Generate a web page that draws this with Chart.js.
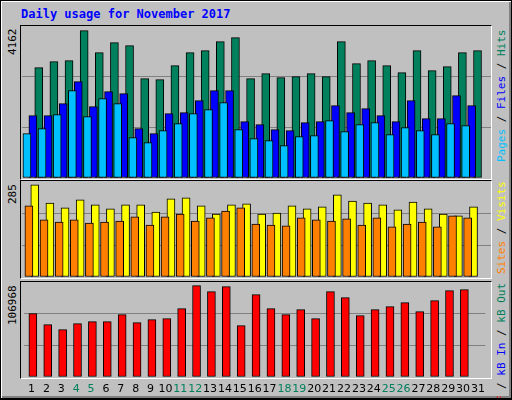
<!DOCTYPE html>
<html><head><meta charset="utf-8">
<script src="https://cdn.jsdelivr.net/npm/chart.js@4"></script>
<style>
html,body{margin:0;padding:0;background:#c0c0c0;}
#wrap{position:absolute;left:0;top:0;width:510px;height:397px;border:1px solid #000;border-bottom:2px solid #000;background:#c0c0c0;box-shadow:inset 1px 1px 0 #fff,inset -2px -2px 0 #808080;overflow:hidden;}
.frame{position:absolute;left:19px;width:470px;border-top:1px solid #000;border-left:1px solid #000;border-right:1px solid #fff;border-bottom:1px solid #fff;}
.c{position:absolute;left:21px;width:469px;}
.title{position:absolute;left:20px;top:6px;font:bold 12px "DejaVu Sans Mono",monospace;color:#0000ff;}
.yl{position:absolute;font:11px "DejaVu Sans Mono",monospace;color:#000;transform-origin:0 0;transform:rotate(-90deg);white-space:nowrap;}
.rl{position:absolute;font:11px "DejaVu Sans Mono",monospace;transform-origin:0 0;transform:rotate(-90deg);white-space:nowrap;}
</style></head><body>
<div id="wrap">
<div class="title">Daily usage for November 2017</div>
<div class="frame" style="top:24px;height:153px"></div>
<div class="frame" style="top:179px;height:97px"></div>
<div class="frame" style="top:280px;height:96px"></div>
<div class="c" style="top:25px;height:152px"><canvas id="c1"></canvas></div>
<div class="c" style="top:180px;height:96px"><canvas id="c2"></canvas></div>
<div class="c" style="top:281px;height:117px"><canvas id="c3"></canvas></div>
<div id="labels"></div>
</div>
<script>
const days = Array.from({length:31},(_,i)=>String(i+1));
const weekendDays = [4,5,11,12,18,19,25,26];
const hits = [3117,3286,3314,4162,3540,3823,3738,2806,2778,3173,3540,3597,3851,3964,2806,2947,2834,2862,2947,2862,3851,3230,3314,3173,2975,3597,3032,3145,3540,3597];
const files = [1761,1761,2100,2721,2015,2439,2382,1394,1252,1817,1846,2185,2467,2467,1591,1507,1365,1337,1563,1591,2043,1846,1959,1761,1591,2185,1676,1676,2326,2043];
const pages = [1252,1394,1789,2467,1733,2241,2100,1139,998,1337,1535,1817,1930,2128,1365,1111,1055,913,1168,1196,1620,1309,1507,1563,1224,1422,1337,1224,1535,1478];
const visits = [285,229,214,239,223,211,223,223,201,242,245,220,195,223,226,195,198,220,211,217,254,235,229,223,208,232,211,195,189,217];
const sites = [220,177,170,177,167,170,173,186,161,186,195,173,183,204,214,164,161,158,183,177,173,180,161,183,155,164,170,155,189,183];
const kbytes = [74176,61293,55437,62464,64806,64806,73005,63635,67149,68320,80032,106968,99942,105797,60122,96429,80032,73005,78861,68320,99942,92915,71834,78861,82374,87059,76518,89402,101113,102284];
const maxLabels = ["4162","285","106968"];
const scaleMax = [4292,297,111181];

const pts = a => a.map((v,i)=>({x:i+1,y:v}));
function hx(shift){return {type:'linear',display:false,offset:false,grace:0,bounds:'data',min:0.5-shift,max:31.5-shift};}
function yAxis(m){return {min:0,max:m,display:true,border:{display:false},ticks:{display:false,stepSize:m/3},
  grid:{drawTicks:false,color:c=>(c.tick&&c.index>0&&c.index<3)?'#808080':'rgba(0,0,0,0)',lineWidth:1}};}
function ds(data,color,axis,order){return {data:pts(data),backgroundColor:color,borderColor:'#000',borderWidth:1,borderSkipped:false,barThickness:8,xAxisID:axis,order:order};}
const base = {animation:false,responsive:true,maintainAspectRatio:false,plugins:{legend:{display:false},tooltip:{enabled:false}},layout:{padding:0}};

new Chart(document.getElementById('c1'),{type:'bar',data:{datasets:[
  ds(pages,'#00c0ff','xp',1),ds(files,'#0000ff','xf',2),ds(hits,'#00805c','xh',3)]},
  options:{...base,scales:{xh:hx(0.08),xf:hx(0.22),xp:hx(0.355),y:yAxis(scaleMax[0])}}});
new Chart(document.getElementById('c2'),{type:'bar',data:{datasets:[
  ds(sites,'#ff8000','xs',1),ds(visits,'#ffff00','xv',2)]},
  options:{...base,scales:{xv:hx(0.08),xs:hx(0.22),y:yAxis(scaleMax[1])}}});
new Chart(document.getElementById('c3'),{type:'bar',data:{labels:days,datasets:[
  ds(kbytes,'#ff0000','xk',1)]},
  options:{...base,scales:{xk:hx(0.09),
    x:{type:'category',labels:days,offset:true,position:'bottom',border:{display:false},grid:{display:false,drawTicks:false},
       afterFit:s=>{s.height=22;},
       ticks:{padding:6,autoSkip:false,maxRotation:0,font:{family:'DejaVu Sans',size:11},
         color:c=>weekendDays.includes(c.index+1)?'#00805c':'#000'}},
    y:yAxis(scaleMax[2])}}});

const tops=[26,181,282];
const L=document.getElementById('labels');
maxLabels.forEach((t,i)=>{const d=document.createElement('div');d.className='yl';d.textContent=t;
  d.style.left='5px';d.style.top=(tops[i]+2+t.length*6.6)+'px';L.appendChild(d);});
const legends=[
  [['Pages','#00c0ff'],[' / ','#000'],['Files','#0000ff'],[' / ','#000'],['Hits','#00805c']],
  [['Sites','#ff8000'],[' / ','#000'],['Visits','#ffff00']],
  [['kB F','#ff0000'],[' / ','#000'],['kB In','#0000ff'],[' / ','#000'],['kB Out','#00805c']]];
const lt=[29,181,282];
legends.forEach((parts,i)=>{const d=document.createElement('div');d.className='rl';
  let n=0;parts.forEach(([t,c])=>{const s=document.createElement('span');s.textContent=t;s.style.color=c;d.appendChild(s);n+=t.length;});
  d.style.left='494px';d.style.top=(lt[i]+n*6.6)+'px';L.appendChild(d);});
</script>
</body></html>
